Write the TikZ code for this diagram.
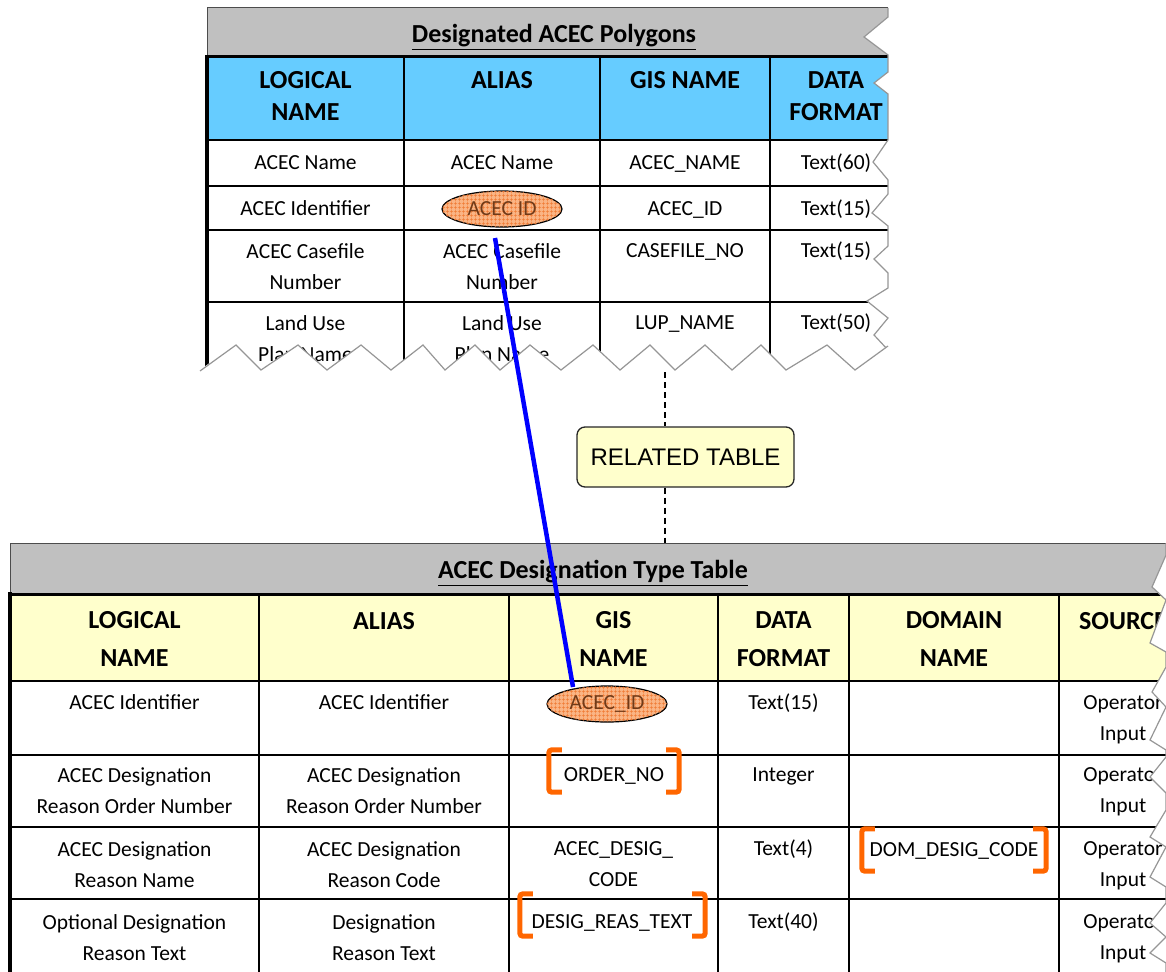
\documentclass[tikz,border=0pt]{standalone}
\usepackage{fontspec}
\setmainfont{Carlito}
\newfontfamily\arialfont{Liberation Sans}
\usetikzlibrary{shapes.geometric,patterns.meta}

\definecolor{barGray}{RGB}{192,192,192}
\definecolor{hdBlue}{RGB}{102,204,255}
\definecolor{hdYellow}{RGB}{255,255,204}
\definecolor{keyFill}{RGB}{250,180,132}
\definecolor{keyHatch}{RGB}{240,122,52}
\definecolor{keyText}{RGB}{112,58,24}
\definecolor{fkOrange}{RGB}{255,102,0}
\definecolor{tearGray}{RGB}{150,150,150}
\definecolor{linkBlue}{RGB}{0,0,255}

\begin{document}
\begin{tikzpicture}[x=1pt,y=-1pt,
  cell/.style={inner sep=0, align=center, font=\fontsize{21.5}{31}\selectfont,
    execute at begin node=\strut, execute at end node=\strut},
  head/.style={inner sep=0, align=center, font=\bfseries\fontsize{26}{32}\selectfont,
    execute at begin node=\strut, execute at end node=\strut},
  headB/.style={head, font=\bfseries\fontsize{26}{38}\selectfont},
  ttl/.style={inner sep=0, font=\bfseries\fontsize{26}{30}\selectfont},
  rule/.style={line width=2pt, black},
  edge/.style={line width=4pt, black},
  bar/.style={fill=barGray, draw=black!70, line width=1pt},
  pkey/.style={ellipse, draw=black, line width=1.2pt, fill=keyFill,
    postaction={pattern={Hatch[distance=4pt,angle=0,line width=0.5pt]}, pattern color=keyHatch},
    minimum width=120, minimum height=36, inner sep=0, text=keyText,
    font=\fontsize{21.5}{25}\selectfont},
  fkbox/.style={inner sep=0, minimum height=42},
  fkmark/.style={draw=fkOrange, line width=5pt, rounded corners=3pt},
  torn/.style={fill=white, draw=none},
  tornline/.style={draw=tearGray, line width=1.2pt},
  reldash/.style={dash pattern=on 6pt off 4pt, line width=1.5pt},
  relbox/.style={draw=black!85, line width=1.3pt, fill=hdYellow, rounded corners=8pt,
    minimum width=217, minimum height=60, inner sep=0,
    font=\arialfont\fontsize{24}{28}\selectfont},
  link/.style={draw=linkBlue, line width=4.5pt}]

\useasboundingbox (0,0) rectangle (1166,971);

% ---------------- Designated ACEC Polygons ----------------
\path[bar] (207,8) rectangle (905,57);
\fill[hdBlue] (207,57) rectangle (905,140);
\foreach \yy in {140,186,230,302} \draw[rule] (207,\yy) -- (905,\yy);
\draw[line width=3pt] (207,57) -- (905,57);
\foreach \xx in {404,600,770} \draw[rule] (\xx,57) -- (\xx,374);
\draw[edge] (207,55) -- (207,374);

\node[ttl] (t1title) at (554,37) {\underline{Designated ACEC Polygons}};

\node[head] (t1h1) at (305.5,101) {LOGICAL\\NAME};
\node[head] (t1h2) at (502,82) {ALIAS};
\node[head] (t1h3) at (685,82) {GIS NAME};
\node[head] (t1h4) at (836,101) {DATA\\FORMAT};

\node[cell] (t1a1) at (305.5,163.5) {ACEC Name};
\node[cell] (t1a2) at (502,163.5) {ACEC Name};
\node[cell] (t1a3) at (685,163.5) {ACEC\_NAME};
\node[cell] (t1a4) at (836,163.5) {Text(60)};

\node[cell] (t1b1) at (305.5,209.5) {ACEC Identifier};
\node[pkey] (e1) at (502,209) {ACEC ID};
\node[cell] (t1b3) at (685,209.5) {ACEC\_ID};
\node[cell] (t1b4) at (836,209.5) {Text(15)};

\node[cell] (t1c1) at (305.5,271) {ACEC Casefile\\Number};
\node[cell] (t1c2) at (502,271) {ACEC Casefile\\Number};
\node[cell] (t1c3) at (685,251.5) {CASEFILE\_NO};
\node[cell] (t1c4) at (836,251.5) {Text(15)};

\node[cell] (t1d1) at (305.5,343) {Land Use\\Plan Name};
\node[cell] (t1d2) at (502,343) {Land Use\\Plan Name};
\node[cell] (t1d3) at (685,323.5) {LUP\_NAME};
\node[cell] (t1d4) at (836,323.5) {Text(50)};

% torn right edge
\path[torn] (888,4) -- (888,17) -- (864,37) -- (888,55) -- (888,72) -- (874,83) -- (888,94)
  -- (888,140) -- (873,162) -- (888,180) -- (888,194) -- (872,213) -- (888,226)
  -- (888,246) -- (874,259) -- (888,273) -- (888,288) -- (867,301) -- (888,318)
  -- (874,335) -- (888,350) -- (880,362) -- (888,374) -- (912,374) -- (912,0) -- (888,0) -- cycle;
\draw[tornline] (888,8) -- (888,17) -- (864,37) -- (888,55) -- (888,72) -- (874,83) -- (888,94)
  -- (888,140) -- (873,162) -- (888,180) -- (888,194) -- (872,213) -- (888,226)
  -- (888,246) -- (874,259) -- (888,273) -- (888,288) -- (867,301) -- (888,318)
  -- (874,335) -- (888,350) -- (880,362) -- (888,372);

% torn bottom edge
\path[torn] (198,371) -- (236,345) -- (261,370) -- (298,345) -- (327,370) -- (361,345)
  -- (391,370) -- (423,345) -- (445,370) -- (475,345) -- (500,370) -- (530,345)
  -- (561,370) -- (593,345) -- (620,370) -- (650,345) -- (675,370) -- (705,345)
  -- (732,370) -- (761,345) -- (786,370) -- (827,345) -- (855,370) -- (888,346)
  -- (912,346) -- (912,390) -- (198,390) -- cycle;
\draw[tornline] (200,371) -- (236,345) -- (261,370) -- (298,345) -- (327,370) -- (361,345)
  -- (391,370) -- (423,345) -- (445,370) -- (475,345) -- (500,370) -- (530,345)
  -- (561,370) -- (593,345) -- (620,370) -- (650,345) -- (675,370) -- (705,345)
  -- (732,370) -- (761,345) -- (786,370) -- (827,345) -- (855,370) -- (888,346);

% ---------------- ACEC Designation Type Table ----------------
\path[bar] (10,543) rectangle (1185,593);
\fill[hdYellow] (10,594) rectangle (1185,681);
\draw[line width=3pt] (10,594) -- (1185,594);
\foreach \yy in {681,755,827,899} \draw[rule] (10,\yy) -- (1185,\yy);
\foreach \xx in {259,509,718,849,1059} \draw[rule] (\xx,594) -- (\xx,975);
\draw[edge] (10,592) -- (10,975);

\node[ttl] (t2title) at (593,573) {\underline{ACEC Designation Type Table}};

\node[headB] (t2h1) at (134.5,645) {LOGICAL\\NAME};
\node[headB] (t2h2) at (384,621.5) {ALIAS};
\node[headB] (t2h3) at (613.5,645) {GIS\\NAME};
\node[headB] (t2h4) at (783.5,645) {DATA\\FORMAT};
\node[headB] (t2h5) at (954,645) {DOMAIN\\NAME};
\node[headB] (t2h6) at (1123,621.5) {SOURCE};

\node[cell] (t2a1) at (134.5,703.5) {ACEC Identifier};
\node[cell] (t2a2) at (384,703.5) {ACEC Identifier};
\node[pkey] (e2) at (607,704) {ACEC\_ID};
\node[cell] (t2a4) at (783.5,703.5) {Text(15)};
\node[cell] (t2a6) at (1123,723) {Operator\\Input};

\node[cell] (t2b1) at (134.5,795) {ACEC Designation\\Reason Order Number};
\node[cell] (t2b2) at (384,795) {ACEC Designation\\Reason Order Number};
\node[cell] (t2b3) at (614,775.5) {ORDER\_NO};
\node[cell] (t2b4) at (783.5,775.5) {Integer};
\node[cell] (t2b6) at (1123,795) {Operator\\Input};

\node[cell] (t2c1) at (134.5,869) {ACEC Designation\\Reason Name};
\node[cell] (t2c2) at (384,869) {ACEC Designation\\Reason Code};
\node[cell] (t2c3) at (613.5,869) {ACEC\_DESIG\_\\CODE};
\node[cell] (t2c4) at (783.5,849.5) {Text(4)};
\node[cell] (t2c5) at (954,850.5) {DOM\_DESIG\_CODE};
\node[cell] (t2c6) at (1123,869) {Operator\\Input};

\node[cell] (t2d1) at (134.5,942) {Optional Designation\\Reason Text};
\node[cell] (t2d2) at (384,942) {Designation\\Reason Text};
\node[cell] (t2d3) at (612,922.5) {DESIG\_REAS\_TEXT};
\node[cell] (t2d4) at (783.5,922.5) {Text(40)};
\node[cell] (t2d6) at (1123,942) {Operator\\Input};

% foreign-key brackets
\node[fkbox, minimum width=130] (fk1) at (614,771) {};
\node[fkbox, minimum width=184] (fk2) at (954,850) {};
\node[fkbox, minimum width=185] (fk3) at (612.5,915) {};
\foreach \b in {fk1,fk2,fk3}{
  \draw[fkmark] ([xshift=13pt]\b.north west) -- (\b.north west) -- (\b.south west) -- ([xshift=13pt]\b.south west);
  \draw[fkmark] ([xshift=-13pt]\b.north east) -- (\b.north east) -- (\b.south east) -- ([xshift=-13pt]\b.south east);
}

% torn right edge
\path[torn] (1166,540) -- (1166,555) -- (1152,587) -- (1166,600) -- (1150,643) -- (1166,652)
  -- (1166,667) -- (1152,692) -- (1166,707) -- (1150,740) -- (1166,750) -- (1166,757)
  -- (1150,777) -- (1166,793) -- (1166,810) -- (1150,837) -- (1166,847) -- (1150,877)
  -- (1166,887) -- (1166,903) -- (1150,923) -- (1166,937) -- (1150,953) -- (1166,963)
  -- (1166,975) -- (1190,975) -- (1190,540) -- cycle;
\draw[tornline] (1166,543) -- (1166,555) -- (1152,587) -- (1166,600) -- (1150,643) -- (1166,652)
  -- (1166,667) -- (1152,692) -- (1166,707) -- (1150,740) -- (1166,750) -- (1166,757)
  -- (1150,777) -- (1166,793) -- (1166,810) -- (1150,837) -- (1166,847) -- (1150,877)
  -- (1166,887) -- (1166,903) -- (1150,923) -- (1166,937) -- (1150,953) -- (1166,963)
  -- (1166,975);

% ---------------- relation ----------------
\node[relbox] (rel) at (685.5,457) {RELATED TABLE};
\coordinate (cutTop) at (665,372);
\coordinate (t2top) at (665,543);
\draw[reldash] (cutTop) -- (cutTop |- rel.north);
\draw[reldash] (t2top |- rel.south) -- (t2top);

\coordinate (linkA) at (495,238);
\coordinate (linkB) at (573,687);
\draw[link] (linkA) -- (linkB);

\end{tikzpicture}
\end{document}
